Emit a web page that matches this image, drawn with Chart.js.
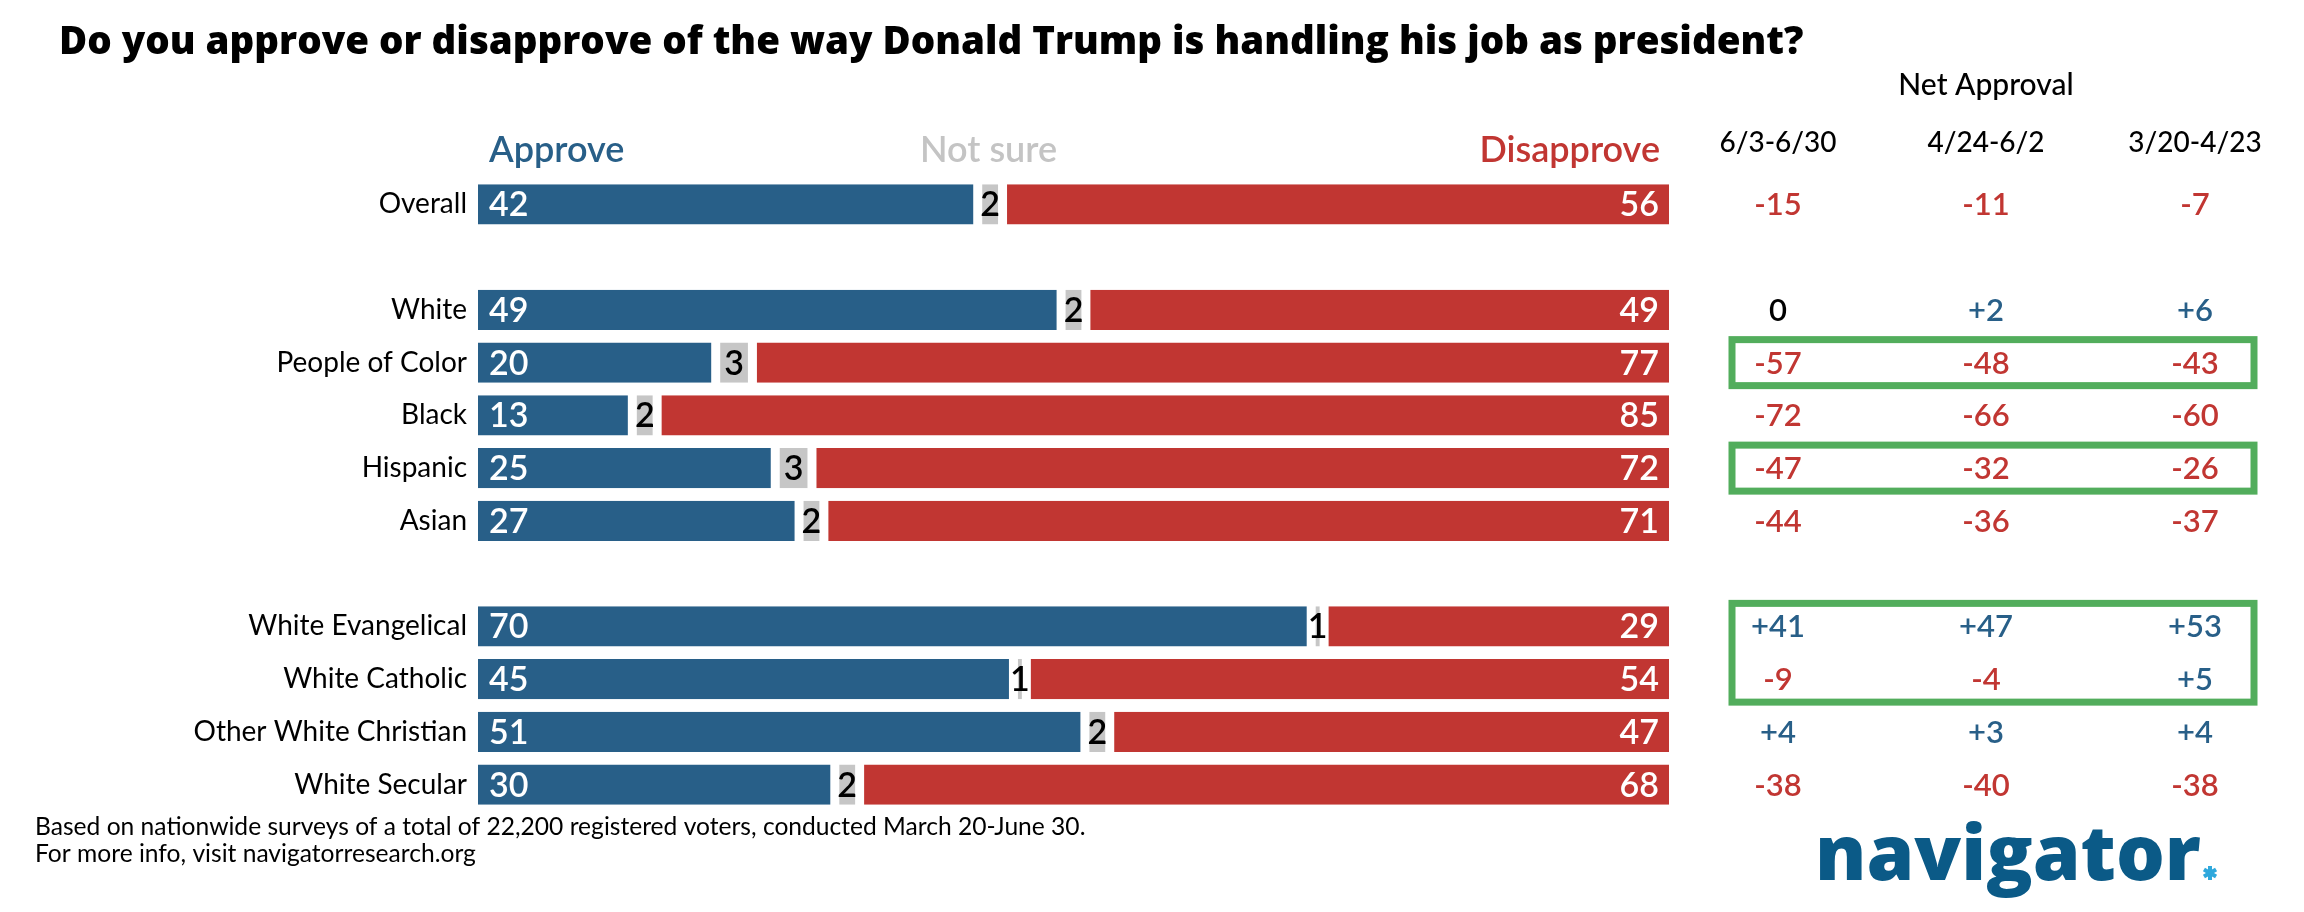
<!DOCTYPE html>
<html>
<head>
<meta charset="utf-8">
<script src="https://cdn.jsdelivr.net/npm/chart.js@4"></script>
<style>
  body { margin: 0; background: #fff; }
  canvas { display: block; }
</style>
</head>
<body>
<canvas id="chart" width="2304" height="912" style="width:2304px;height:912px"></canvas>
<script>
// categories (empty strings are spacer rows)
const categories = ['Overall', '', 'White', 'People of Color', 'Black', 'Hispanic', 'Asian', '',
  'White Evangelical', 'White Catholic', 'Other White Christian', 'White Secular'];
const approve    = [42, null, 49, 20, 13, 25, 27, null, 70, 45, 51, 30];
const notSure    = [2,  null, 2,  3,  2,  3,  2,  null, 1,  1,  2,  2];
const disapprove = [56, null, 49, 77, 85, 72, 71, null, 29, 54, 47, 68];

// net approval by period
const periods = ['6/3-6/30', '4/24-6/2', '3/20-4/23'];
const netJun = [-15, null, 0, -57, -72, -47, -44, null, 41, -9, 4, -38];
const netMay = [-11, null, 2, -48, -66, -32, -36, null, 47, -4, 3, -40];
const netApr = [-7,  null, 6, -43, -60, -26, -37, null, 53, 5,  4, -38];
// rows boxed in green (first, last)
const highlighted = [[3, 3], [5, 5], [8, 9]];

const BLUE = '#285f88';
const RED = '#c13632';
const GRAY = '#c6c6c6';
const GREEN = '#52ad5c';
const FONT = 'Lato, "Open Sans", sans-serif';

function fmt(v) {
  return v > 0 ? '+' + v : String(v);
}

// shrink/grow a font so the text takes a given width
function fitFont(ctx, text, weight, size, family, width) {
  ctx.font = weight + ' ' + size + 'px ' + family;
  const w = ctx.measureText(text).width;
  const s = size * width / w;
  ctx.font = weight + ' ' + s.toFixed(1) + 'px ' + family;
}

const textPlugin = {
  id: 'texts',
  afterDatasetsDraw(chart) {
    const ctx = chart.ctx;
    ctx.save();

    // values on the bars
    ctx.textBaseline = 'middle';
    ctx.font = '600 34px ' + FONT;
    chart.data.datasets.forEach((ds, di) => {
      chart.getDatasetMeta(di).data.forEach((bar, i) => {
        const v = ds.data[i];
        if (v == null) return;
        if (di === 0) {
          ctx.fillStyle = '#fff';
          ctx.textAlign = 'left';
          ctx.fillText(v, bar.base + 11, bar.y + 1);
        } else if (di === 1) {
          ctx.fillStyle = '#000';
          ctx.textAlign = 'center';
          ctx.fillText(v, (bar.base + bar.x) / 2, bar.y + 1);
        } else {
          ctx.fillStyle = '#fff';
          ctx.textAlign = 'right';
          ctx.fillText(v, bar.x - 10, bar.y + 1);
        }
      });
    });
    ctx.restore();
  },
  afterDraw(chart) {
    const ctx = chart.ctx;
    const x = chart.scales.x;
    const y = chart.scales.y;
    ctx.save();

    // title
    const title = 'Do you approve or disapprove of the way Donald Trump is handling his job as president?';
    ctx.fillStyle = '#000';
    ctx.textAlign = 'left';
    ctx.textBaseline = 'alphabetic';
    fitFont(ctx, title, '800', 36, '"Open Sans", Lato, sans-serif', 1746);
    ctx.fillText(title, 59, 54);

    // column headers
    ctx.font = '600 36px ' + FONT;
    ctx.fillStyle = BLUE;
    ctx.fillText('Approve', x.getPixelForValue(0) + 11, 162);
    ctx.fillStyle = '#c4c4c4';
    ctx.fillText('Not sure', 920, 162);
    ctx.fillStyle = RED;
    ctx.textAlign = 'right';
    ctx.fillText('Disapprove', x.getPixelForValue(100) - 9, 162);

    // net approval table
    const cols = [1778, 1986, 2195];
    const nets = [netJun, netMay, netApr];
    ctx.textAlign = 'center';
    ctx.fillStyle = '#000';
    ctx.font = '500 30px ' + FONT;
    ctx.fillText('Net Approval', cols[1], 95);
    ctx.font = '500 28px ' + FONT;
    periods.forEach((p, c) => ctx.fillText(p, cols[c], 152));

    ctx.font = '600 31px ' + FONT;
    ctx.textBaseline = 'middle';
    nets.forEach((arr, c) => {
      arr.forEach((v, i) => {
        if (v == null) return;
        ctx.fillStyle = v > 0 ? BLUE : (v < 0 ? RED : '#000');
        ctx.fillText(fmt(v), cols[c], y.getPixelForValue(i) + 1);
      });
    });

    // green highlight boxes
    ctx.strokeStyle = GREEN;
    ctx.lineWidth = 7;
    highlighted.forEach(([a, b]) => {
      const top = y.getPixelForValue(a) - 23;
      const bot = y.getPixelForValue(b) + 23;
      ctx.strokeRect(1732, top, 2254 - 1732, bot - top);
    });

    // footer
    const note = 'Based on nationwide surveys of a total of 22,200 registered voters, conducted March 20-June 30.';
    ctx.textAlign = 'left';
    ctx.textBaseline = 'alphabetic';
    ctx.fillStyle = '#000';
    fitFont(ctx, note, '400', 24, FONT, 1051);
    ctx.fillText(note, 35, 835);
    ctx.fillText('For more info, visit navigatorresearch.org', 35, 862);

    // logo
    ctx.fillStyle = '#0b5a87';
    fitFont(ctx, 'navigator', '800', 86, '"Open Sans", Lato, sans-serif', 386);
    ctx.fillText('navigator', 1815, 880);
    ctx.strokeStyle = '#2fa8dc';
    ctx.lineWidth = 4;
    const cx = 2210, cy = 873, r = 7;
    for (let k = 0; k < 3; k++) {
      const a = Math.PI / 2 + k * Math.PI / 3;
      ctx.beginPath();
      ctx.moveTo(cx - r * Math.cos(a), cy - r * Math.sin(a));
      ctx.lineTo(cx + r * Math.cos(a), cy + r * Math.sin(a));
      ctx.stroke();
    }
    ctx.restore();
  }
};

new Chart(document.getElementById('chart'), {
  type: 'bar',
  data: {
    labels: categories,
    datasets: [
      { label: 'Approve', data: approve, backgroundColor: BLUE,
        borderColor: '#fff', borderWidth: { left: 0, right: 5, top: 0, bottom: 0 } },
      { label: 'Not sure', data: notSure, backgroundColor: GRAY,
        borderColor: '#fff', borderWidth: { left: 4, right: 4, top: 0, bottom: 0 } },
      { label: 'Disapprove', data: disapprove, backgroundColor: RED,
        borderColor: '#fff', borderWidth: { left: 5, right: 0, top: 0, bottom: 0 } }
    ]
  },
  options: {
    indexAxis: 'y',
    responsive: false,
    animation: false,
    devicePixelRatio: 1,
    layout: { padding: { top: 178, bottom: 101, left: 0, right: 635 } },
    datasets: {
      bar: { barPercentage: 0.76, categoryPercentage: 1, borderSkipped: false }
    },
    scales: {
      x: { stacked: true, min: 0, max: 100, display: false },
      y: {
        stacked: true,
        grid: { display: false, drawTicks: false },
        border: { display: false },
        ticks: { color: '#000', font: { family: FONT, size: 28 }, padding: 11 },
        afterFit(scale) { scale.width = 478; }
      }
    },
    plugins: {
      legend: { display: false },
      tooltip: { enabled: false }
    }
  },
  plugins: [textPlugin]
});
</script>
</body>
</html>
